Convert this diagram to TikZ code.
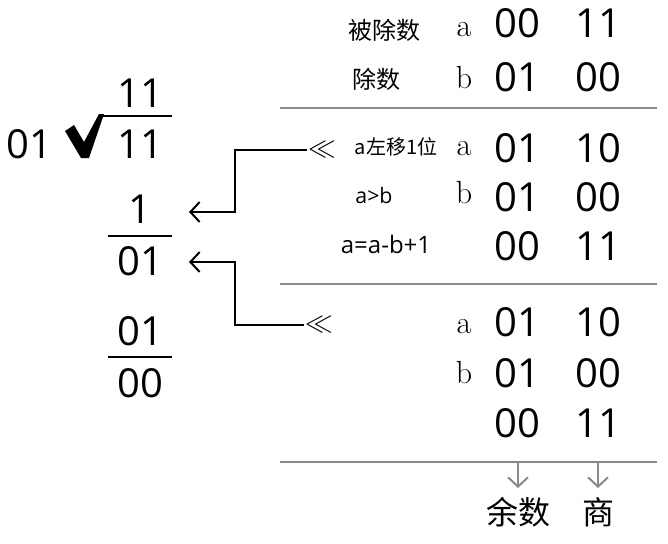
\documentclass[tikz,border=0pt]{standalone}
\usepackage{fontspec}
\usetikzlibrary{arrows.meta, calc}
\newfontfamily\digitfont{Open Sans}
\newfontfamily\cjk{Noto Sans CJK SC}
\definecolor{rulegray}{RGB}{138,138,138}

\begin{document}
\begin{tikzpicture}[
    x=0.75pt, y=-0.75pt,
    num/.style={font=\digitfont\fontsize{30}{30}\selectfont, inner sep=0pt, anchor=base},
    var/.style={font=\fontsize{24}{24}\selectfont, inner sep=0pt, anchor=base},
    lbl/.style={font=\cjk\fontsize{18}{18}\selectfont, inner sep=0pt},
    stepnote/.style={font=\cjk\fontsize{15}{15}\selectfont, inner sep=0pt},
    expr/.style={font=\digitfont\fontsize{16}{16}\selectfont, inner sep=0pt},
    shl/.style={font=\fontsize{20}{20}\selectfont, inner sep=1pt},
    res/.style={font=\cjk\fontsize{24}{24}\selectfont, inner sep=0pt},
    bar/.style={line width=2pt},
    rule/.style={rulegray, line width=2.2pt},
    arrow/.style={-{Straight Barb[length=7pt, width=15pt]}, line width=1.5pt},
    garrow/.style={-{Straight Barb[length=7pt, width=15pt]}, rulegray, line width=1.5pt}]

  \useasboundingbox (0,0) rectangle (668,543);

  % long division on the left
  \node[num] (dsr) at (29,158) {01};
  \fill (65,131) -- (74,125) -- (84,142) -- (99,114) -- (104,114) -- (89,158) -- (81,158) -- cycle;
  \draw[bar] (101,116) -- (172,116);
  \node[num] (quo) at (140,107) {11};
  \node[num] (dvd) at (140,158) {11};

  \node[num] (p1) at (140,223) {1};
  \draw[bar] (108,236) -- (172,236);
  \node[num] (m1) at (140,275) {01};

  \node[num] (p2) at (140,345) {01};
  \draw[bar] (108,357) -- (172,357);
  \node[num] (m2) at (140,397) {00};

  % register table on the right
  \node[lbl] (la) at (384,30) {被除数};
  \node[var] (va1) at (464,36) {a};
  \node[num] (a1h) at (517,37) {00};
  \node[num] (a1l) at (598,37) {11};

  \node[lbl] (lb) at (376,79) {除数};
  \node[var] (vb1) at (464,88) {b};
  \node[num] (b1h) at (517,91) {01};
  \node[num] (b1l) at (598,91) {00};

  \draw[rule] (280,108) -- (657,108);

  \node[shl] (ll1) at (322,150) {$\ll$};
  \node[stepnote] (s1) at (396,147) {a左移1位};
  \node[var] (va2) at (464,155) {a};
  \node[num] (a2h) at (517,162) {01};
  \node[num] (a2l) at (598,162) {10};

  \node[expr] (s2) at (374,195) {a>b};
  \node[var] (vb2) at (464,203) {b};
  \node[num] (b2h) at (517,211) {01};
  \node[num] (b2l) at (598,211) {00};

  \node[expr, font=\digitfont\fontsize{18}{18}\selectfont] (s3) at (386,244) {a=a-b+1};
  \node[num] (c2h) at (517,260) {00};
  \node[num] (c2l) at (598,260) {11};

  \draw[rule] (280,284) -- (657,284);

  \node[shl] (ll2) at (319,325) {$\ll$};
  \node[var] (va3) at (464,333) {a};
  \node[num] (a3h) at (517,336) {01};
  \node[num] (a3l) at (598,336) {10};

  \node[var] (vb3) at (464,383) {b};
  \node[num] (b3h) at (517,387) {01};
  \node[num] (b3l) at (598,387) {00};

  \node[num] (c3h) at (517,437) {00};
  \node[num] (c3l) at (598,437) {11};

  \draw[rule] (280,462) -- (657,462);

  \node[res] (rem) at (518,512) {余数};
  \node[res] (qt)  at (598,512) {商};

  \coordinate (in1) at (189,212);
  \coordinate (in2) at (189,262);
  \draw[arrow] (ll1.west) -| ($(in1)+(46,0)$) -- (in1);
  \draw[arrow] (ll2.west) -| ($(in2)+(46,0)$) -- (in2);

  \draw[garrow] (rem.north |- 0,462) -- (rem.north |- 0,488);
  \draw[garrow] (qt.north |- 0,462) -- (qt.north |- 0,488);
\end{tikzpicture}
\end{document}
